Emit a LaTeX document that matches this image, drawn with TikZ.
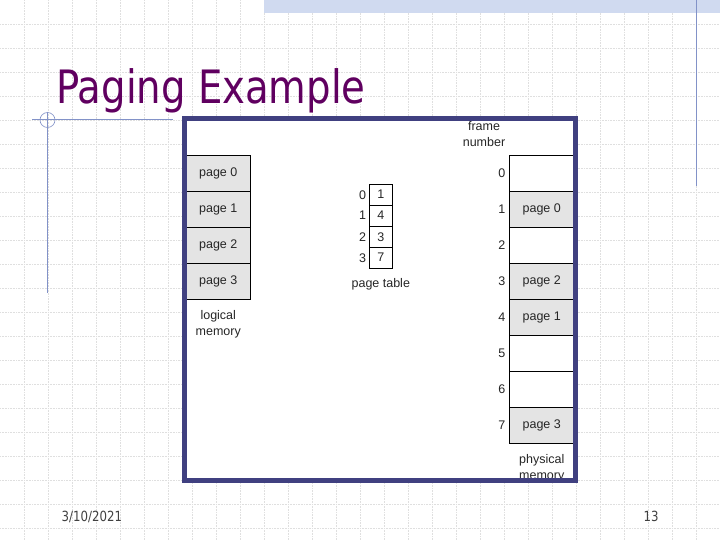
\documentclass[tikz,border=0pt]{standalone}
\usepackage{fontspec}
\setmainfont{Liberation Sans}
\newfontfamily\slidefont[FakeStretch=0.84]{DejaVu Sans}
\usetikzlibrary{positioning}
\definecolor{titlepurple}{RGB}{96,0,96}
\definecolor{framebar}{RGB}{64,64,128}
\definecolor{deco}{RGB}{130,146,200}
\definecolor{bandblue}{RGB}{208,218,240}
\definecolor{memgrey}{RGB}{228,228,228}

\begin{document}
\begin{tikzpicture}[x=1pt, y=-1pt,
    node distance=0pt,
    gridline/.style={gray!25, densely dotted, line width=0.6pt},
    memcell/.style={rectangle, draw=black, line width=0.8pt, minimum width=64.5pt, minimum height=36pt, outer sep=0pt, inner sep=0pt, text=black!85, font=\fontsize{12.5}{15}\selectfont, fill=memgrey},
    freecell/.style={memcell, fill=white},
    ptcell/.style={rectangle, draw=black, line width=0.8pt, minimum width=23pt, minimum height=21pt, outer sep=0pt, inner sep=0pt, text=black!85, font=\fontsize{12.5}{15}\selectfont},
    tag/.style={font=\fontsize{12.5}{16}\selectfont, text=black!85, align=center, inner sep=0pt},
    slidetext/.style={font=\slidefont\fontsize{14}{16}\selectfont, text=black!75, inner sep=0pt}
]
\useasboundingbox (0,0) rectangle (720,540);

% slide background
\foreach \gx in {24,48,...,696}
  \draw[gridline] (\gx,0) -- (\gx,540);
\foreach \gy in {24,48,...,528}
  \draw[gridline] (0,\gy) -- (720,\gy);
\fill[bandblue] (264,0) rectangle (720,12.7);
\draw[deco, line width=1.2pt] (696.7,0) -- (696.7,186.5);
\draw[deco, line width=1.2pt] (32,119.5) -- (173,119.5);
\draw[deco, line width=1.2pt] (47.5,112) -- (47.5,293);
\draw[deco, line width=0.6pt] (47.5,120) circle (7.5);

\node[anchor=base west, text=titlepurple, font=\slidefont\fontsize{46}{50}\selectfont, inner sep=0pt] (title) at (56,103.3) {Paging Example};

% figure
\fill[white] (184,119) rectangle (575.5,480.5);

% logical memory
\node[memcell] (lp0) at (218.25,173.5) {page 0};
\node[memcell, below=of lp0] (lp1) {page 1};
\node[memcell, below=of lp1] (lp2) {page 2};
\node[memcell, below=of lp2] (lp3) {page 3};
\node[tag, below=10.5pt of lp3] (lmem) {logical\\memory};

% page table
\node[ptcell] (pt0) at (380.8,194.7) {1};
\node[ptcell, below=of pt0] (pt1) {4};
\node[ptcell, below=of pt1] (pt2) {3};
\node[ptcell, below=of pt2] (pt3) {7};
\node[tag, left=3pt of pt0] (pi0) {0};
\node[tag, left=3pt of pt1] (pi1) {1};
\node[tag, left=3pt of pt2] (pi2) {2};
\node[tag, left=3pt of pt3] (pi3) {3};
\node[tag, below=10.5pt of pt3] (ptab) {page table};

% physical memory
\node[freecell] (pf0) at (541.75,173.5) {};
\node[memcell, below=of pf0] (pf1) {page 0};
\node[freecell, below=of pf1] (pf2) {};
\node[memcell, below=of pf2] (pf3) {page 2};
\node[memcell, below=of pf3] (pf4) {page 1};
\node[freecell, below=of pf4] (pf5) {};
\node[freecell, below=of pf5] (pf6) {};
\node[memcell, below=of pf6] (pf7) {page 3};
\foreach \k in {0,...,7}
  \node[tag, left=4pt of pf\k] (fn\k) {\k};
\node[tag] (fhead) at (484,134.5) {frame\\number};
\node[tag, below=11pt of pf7] (pmem) {physical\\memory};

\draw[framebar, line width=5pt] (184,119) rectangle (575.5,480.5);

% footer
\node[slidetext, anchor=base west] (date) at (61.5,521.5) {3/10/2021};
\node[slidetext, anchor=base] (pnum) at (651,521.5) {13};
\end{tikzpicture}
\end{document}
